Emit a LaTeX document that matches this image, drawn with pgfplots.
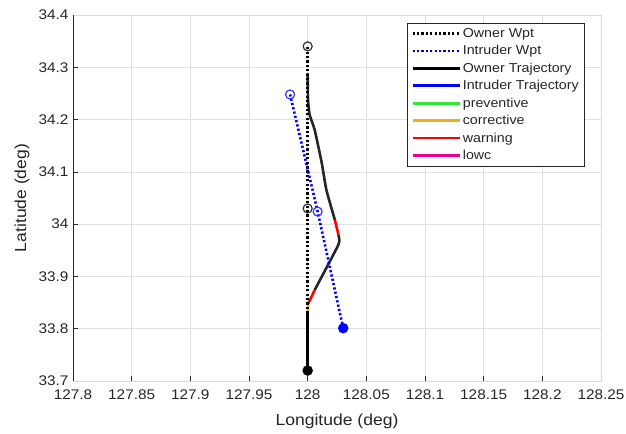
\documentclass[border=0pt]{standalone}
\usepackage{pgfplots}
\pgfplotsset{compat=1.18}
\usepackage{fontspec}
\setmainfont{Liberation Sans}[FakeStretch=1.1]
\definecolor{mgray}{rgb}{0.15,0.15,0.15}
\definecolor{corr}{rgb}{0.929,0.694,0.125}
\definecolor{prev}{rgb}{0.2,0.9,0.2}
\begin{document}
\begin{tikzpicture}
\begin{axis}[
  scale only axis, width=528bp, height=366bp,
  xmin=127.8, xmax=128.25, ymin=33.7, ymax=34.4,
  xtick={127.8,127.85,127.9,127.95,128,128.05,128.1,128.15,128.2,128.25},
  xticklabels={127.8,127.85,127.9,127.95,128,128.05,128.1,128.15,128.2,128.25},
  ytick={33.7,33.8,33.9,34,34.1,34.2,34.3,34.4},
  yticklabels={33.7,33.8,33.9,34,34.1,34.2,34.3,34.4},
  grid=major, grid style={black!12, line width=0.5bp},
  axis line style={black!15, line width=0.6bp},
  tick align=inside, xtick pos=bottom, ytick pos=left,
  major tick length=5bp,
  tick style={mgray, line width=0.6bp},
  ticklabel style={font=\fontsize{14}{14}\selectfont, text=mgray},
  xticklabel style={yshift=-5bp},
  yticklabel style={xshift=-1bp},
  xlabel={Longitude (deg)}, ylabel={Latitude (deg)},
  label style={font=\fontsize{16}{16}\selectfont, text=mgray},
  xlabel style={at={(axis description cs:0.5,-0.11)}, anchor=center},
  ylabel style={at={(axis description cs:-0.0966,0.5)}, anchor=center, rotate=0},
  legend style={at={(1,1)}, xshift=-16bp, yshift=-8bp, anchor=north east,
    draw=mgray, fill=white, line width=0.6bp,
    font=\fontsize{13}{15}\selectfont, text=black!85, row sep=2.6bp,
    inner xsep=4bp, inner ysep=3bp},
  legend cell align=left,
  legend image code/.code={\draw[#1] (-2bp,0bp) -- (45bp,0bp);},
]
\addlegendimage{black, line width=2.6bp, dash pattern=on 2.2bp off 2.2bp}
\addlegendentry{Owner Wpt}
\addlegendimage{blue!70!black, line width=2.6bp, dash pattern=on 2.2bp off 2.2bp}
\addlegendentry{Intruder Wpt}
\addlegendimage{black, line width=2.6bp}
\addlegendentry{Owner Trajectory}
\addlegendimage{blue, line width=2.6bp}
\addlegendentry{Intruder Trajectory}
\addlegendimage{prev, line width=2.6bp}
\addlegendentry{preventive}
\addlegendimage{corr, line width=2.6bp}
\addlegendentry{corrective}
\addlegendimage{red, line width=2.6bp}
\addlegendentry{warning}
\addlegendimage{magenta, line width=2.6bp}
\addlegendentry{lowc}

% owner trajectory
\addplot[black, line width=2.6bp, forget plot] coordinates {(128,33.72)(128,33.832)};
\addplot[corr, line width=2.6bp, forget plot] coordinates {(128,33.832)(128.0005,33.848)};
\addplot[red, line width=2.6bp, forget plot] coordinates {(128.0005,33.848)(128.006,33.874)};
\addplot[black!85, line width=2.6bp, forget plot, smooth, tension=0.3] coordinates {(128.006,33.874)(128.025,33.955)(128.027,33.968)(128.0262,33.98)};
\addplot[red, line width=2.6bp, forget plot] coordinates {(128.0262,33.98)(128.0232,34.008)};
\addplot[black!85, line width=2.6bp, forget plot, smooth, tension=0.3] coordinates {(128.0232,34.008)(128.016,34.065)(128.012,34.117)(128.006,34.18)(128.0017,34.209)(128.0003,34.237)(128,34.289)};

% waypoints
\addplot[black, line width=2.6bp, dash pattern=on 2.2bp off 2.2bp, forget plot] coordinates {(128,33.72)(128,34.03)(128,34.34)};
\addplot[blue, line width=2.6bp, dash pattern=on 2.2bp off 2.2bp, forget plot] coordinates {(128.0303,33.801)(128.0085,34.024)(127.985,34.248)};

\addplot[only marks, mark=o, mark size=4.5bp, black!80, line width=1.2bp, forget plot] coordinates {(128,34.03)(128,34.34)};
\addplot[only marks, mark=*, mark size=5bp, black, forget plot] coordinates {(128,33.72)};
\addplot[only marks, mark=o, mark size=4.5bp, blue!80, line width=1.2bp, forget plot] coordinates {(128.0085,34.024)(127.985,34.248)};
\addplot[only marks, mark=*, mark size=5bp, blue, forget plot] coordinates {(128.0303,33.801)};

\draw[mgray, line width=0.7bp] (rel axis cs:0,1) -- (rel axis cs:0,0) -- (rel axis cs:1,0);
\end{axis}
\pgfresetboundingbox
\path[use as bounding box] ([xshift=-73bp,yshift=-53bp]current axis.south west) rectangle ([xshift=25bp,yshift=15bp]current axis.north east);
\end{tikzpicture}
\end{document}
